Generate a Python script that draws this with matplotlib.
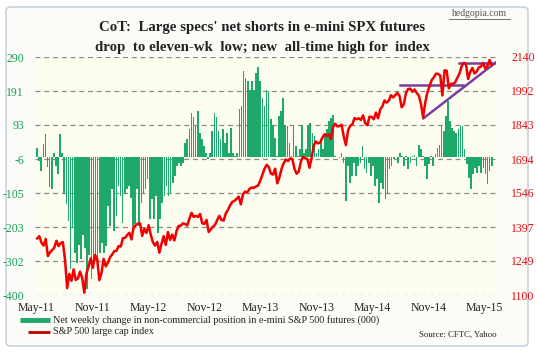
import matplotlib
matplotlib.use("Agg")
import matplotlib.pyplot as plt
from matplotlib.patches import FancyBboxPatch
from matplotlib.lines import Line2D
import pandas as pd

# weekly net change in non-commercial position, e-mini S&P 500 futures (000)
net_change = [
    27, -12, -40, 37, 66, -30, -88, -92, 12, -25, -50, 66, 12, -105, -135, -185, -325,
    -205, -277, -306, -255, -295, -225, -265, -382, -285, -355, -320, -300, -310,
    -277, -248, -277, -257, -142, -200, -94, -214, -170, -84, -113, -190, -104, -94, -84,
    -118, -200, -195, -94, -200, -132, -104, -94, -65, -180, -123, -181, -113, -219, -180,
    -132, -113, -84,
    -113, -103, -75, -55, -26, -17, -26, -17,
    41, 51, 80, 128, 116, 89, 133, 70, 51, 32, 12, -7, 12, 75, 128, 116, 75, 51,
    80, 41, 70, 12,
    85, 12, 3, 12, 139, 148, 248, 229, 219, 195, 219, 195, 243, 262, 219, 171, 148, 195,
    190, 109, 94, 56, 3, 119, 133, 171, 94, 89, 41, 3, 89,
    32, 3, 22, 94, 12, 22, 89, 99, 70, 60, 12, 22, 51, 22, 70, 80, 104, 113,
    123, 3, -1, -4, 12, -17, -127, -26, -74, -54, -17, -55, -26,
    -17, 32, -36, -45, -17, -55, -26, -84, -65, -132, -74, -94, -122, -103, -36, -26,
    -7, -1, -17, 12, 3, -26, 3, -36, -17, 3, 7, -26, 36, 22, 3, -26,
    -64, -20, 3, -26, 10, 27, 36, 89, 75, 118, 162, 104, 85, 75, 70, 80, 89, 89, 22,
    -21, -60, -94, -50, -31, -46, -26, -46, -31, -50, -79, -41, -26,
]

# S&P 500, weekly (Tuesdays) from 3 May 2011
spx = [
    1347, 1357, 1329, 1316, 1345, 1270, 1287, 1296, 1307, 1337, 1314, 1327, 1331,
    1254, 1130, 1192, 1162, 1212, 1166, 1172, 1202, 1175, 1110, 1195, 1225, 1260,
    1219, 1275, 1257, 1165, 1195, 1258, 1225, 1241, 1265,
    1277, 1292, 1293, 1314, 1312, 1348, 1350, 1362, 1372, 1343, 1396, 1405, 1412,
    1413, 1358, 1390, 1371, 1405, 1363, 1330, 1316, 1332, 1285, 1324, 1357, 1319,
    1375, 1341, 1364, 1338, 1379, 1402, 1403, 1413, 1410, 1404, 1433, 1459, 1441,
    1446, 1441, 1454, 1413, 1411, 1428, 1375, 1387, 1399, 1407, 1428, 1446, 1427,
    1426, 1457, 1472, 1492, 1507, 1511, 1520, 1530, 1496, 1540, 1552, 1548, 1563,
    1570, 1568, 1574, 1578, 1598, 1625, 1651, 1669, 1660, 1631, 1626, 1652, 1588,
    1614, 1652, 1676, 1692, 1685, 1697, 1694, 1652, 1630, 1639, 1683, 1704, 1697,
    1695, 1656, 1698, 1754, 1771, 1762, 1767, 1787, 1802, 1795, 1802, 1781, 1833, 1848,
    1837, 1838, 1844, 1792, 1755, 1819, 1840, 1845, 1873, 1868, 1872, 1865,
    1885, 1851, 1842, 1879, 1878, 1868, 1897, 1872, 1911, 1924, 1950, 1941, 1949,
    1973, 1963, 1973, 1983, 1970, 1920, 1933, 1982, 2000, 2002, 1988, 1998, 1983, 1972,
    1935, 1877, 1941, 1985, 2012, 2039, 2051, 2067, 2066, 2059, 1972, 2082, 2080,
    2003, 2023, 2022, 2030, 2050, 2068, 2100, 2115, 2108, 2044, 2075, 2092, 2068,
    2076, 2095, 2098, 2114, 2089, 2100, 2127, 2104,
]

left_ticks = [-400, -302, -203, -105, -6, 93, 191, 290]
right_ticks = [1100, 1249, 1397, 1546, 1694, 1843, 1992, 2140]

# hand-drawn purple trend lines (dates, index levels)
flat_low_dates = ["2014-07-31", "2015-02-22"]
flat_low_vals = [2019, 2019]
flat_high_dates = ["2015-02-07", "2015-06-07"]
flat_high_vals = [2115, 2115]
rising_dates = ["2014-10-15", "2015-06-12"]
rising_vals = [1872, 2120]

bar_dates = pd.date_range("2011-05-03", "2015-05-26", periods=len(net_change))
line_dates = pd.date_range("2011-05-03", periods=len(spx), freq="7D")

plt.rcParams["font.family"] = ["Liberation Serif", "DejaVu Serif"]

fig = plt.figure(figsize=(5.37, 3.54), dpi=100)
fig.patch.set_facecolor("white")
frame = FancyBboxPatch((6 / 537, 1 - 346 / 354), 522 / 537, 339 / 354,
                       boxstyle="round,pad=0,rounding_size=0.01",
                       transform=fig.transFigure, facecolor="#fbfbf8",
                       edgecolor="#c9d3de", linewidth=1.2, zorder=-10)
fig.patches.append(frame)

ax = fig.add_axes([35 / 537, 1 - 295 / 354, 461 / 537, 238 / 354])
ax.set_facecolor("#fdfdf0")
ax2 = ax.twinx()

ax.bar(bar_dates, net_change, width=5.4, color="#1ea86a", linewidth=0, zorder=2)
ax.set_ylim(-400, 290)
ax.set_yticks(left_ticks)
ax.set_yticklabels([str(t) for t in left_ticks], color="#13a05a", fontsize=8.5)
for t in left_ticks:
    ax.axhline(t, color="#8a8a8a", lw=0.9, ls=(0, (4, 3)), zorder=1)

ax2.plot(line_dates, spx, color="#f00000", lw=1.8, zorder=3)
ax2.plot(pd.to_datetime(flat_low_dates), flat_low_vals, color="#7a3ea0", lw=1.8)
ax2.plot(pd.to_datetime(flat_high_dates), flat_high_vals, color="#7a3ea0", lw=1.8)
ax2.plot(pd.to_datetime(rising_dates), rising_vals, color="#7a3ea0", lw=1.8)
ax2.set_ylim(1100, 2140)
ax2.set_yticks(right_ticks)
ax2.set_yticklabels([str(t) for t in right_ticks], color="#e01010", fontsize=8.5)

xticks = pd.date_range("2011-05-01", "2015-05-01", freq="6MS")
ax.set_xticks(xticks)
ax.set_xticklabels([d.strftime("%b-%y") for d in xticks], fontsize=8.5, color="#222222")
ax.set_xlim(pd.Timestamp("2011-04-26"), pd.Timestamp("2015-06-09"))

for a in (ax, ax2):
    for s in a.spines.values():
        s.set_visible(False)
    a.tick_params(length=0)
ax.tick_params(axis="y", pad=8)
ax.tick_params(axis="x", pad=5)
ax2.tick_params(axis="y", pad=11)

fig.text(262 / 537, 1 - 28 / 354, "CoT:  Large specs' net shorts in e-mini SPX futures",
         ha="center", va="center", fontsize=10.7, fontweight="bold", color="#222222")
fig.text(262 / 537, 1 - 47 / 354, "drop  to eleven-wk  low; new  all-time high for  index",
         ha="center", va="center", fontsize=10.7, fontweight="bold", color="#222222")
fig.text(479 / 537, 1 - 14 / 354, "hedgopia.com", ha="center", va="center",
         fontsize=7, color="#555555")
fig.add_artist(Line2D([449 / 537, 510 / 537], [1 - 19 / 354, 1 - 19 / 354],
                      color="#555555", lw=0.6))

fig.add_artist(Line2D([20 / 537, 50 / 537], [1 - 320 / 354, 1 - 320 / 354],
                      color="#1ea86a", lw=3.5, solid_capstyle="butt"))
fig.text(53 / 537, 1 - 320 / 354,
         "Net weekly change in non-commercial position in e-mini S&P 500 futures (000)",
         ha="left", va="center", fontsize=7.3, color="#222222")
fig.add_artist(Line2D([28 / 537, 50 / 537], [1 - 332 / 354, 1 - 332 / 354],
                      color="#c00000", lw=2.0, solid_capstyle="butt"))
fig.text(53 / 537, 1 - 332 / 354, "S&P 500 large cap index",
         ha="left", va="center", fontsize=7.3, color="#222222")
fig.text(497 / 537, 1 - 335 / 354, "Source: CFTC, Yahoo", ha="right", va="center",
         fontsize=6.3, color="#222222")

fig.savefig("out.png", dpi=100, facecolor=fig.get_facecolor())
